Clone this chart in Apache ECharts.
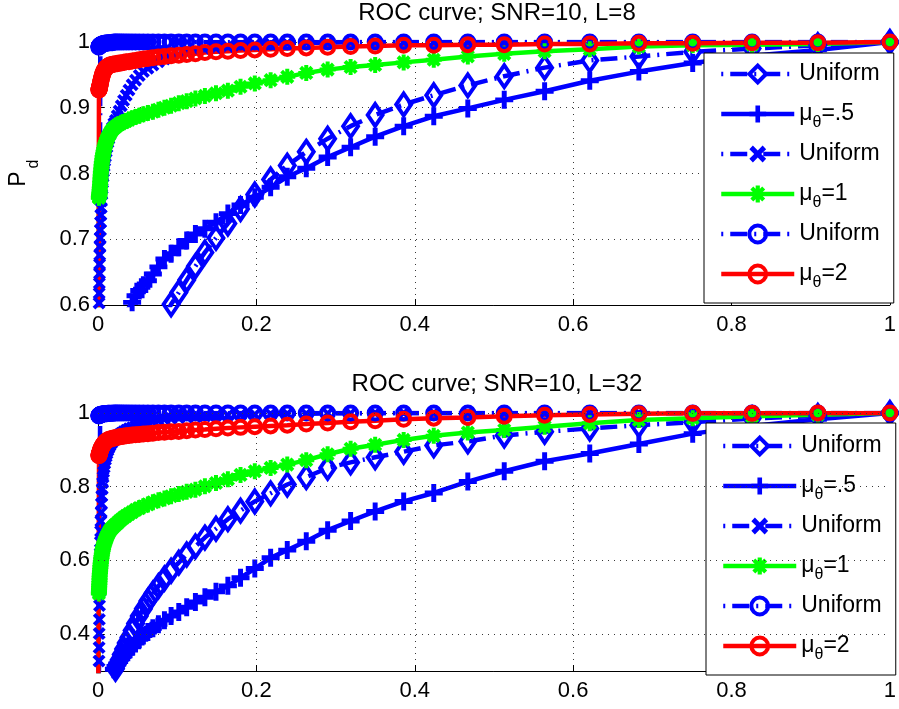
<!DOCTYPE html>
<html>
<head>
<meta charset="utf-8">
<script src="https://cdn.jsdelivr.net/npm/echarts@6/dist/echarts.min.js"></script>
<style>
  html, body { margin: 0; padding: 0; background: #fff; }
  #chart { width: 899px; height: 709px; }
</style>
</head>
<body>
<div id="chart"></div>
<script>
// False-alarm probabilities shared by every curve (threshold sweep)
const pfa = [
  1, 0.909, 0.826, 0.751, 0.683, 0.621, 0.564, 0.513, 0.467, 0.424,
  0.386, 0.350, 0.319, 0.290, 0.263, 0.239, 0.218, 0.198, 0.180, 0.164,
  0.149, 0.135, 0.123, 0.112, 0.102, 0.0923, 0.0839, 0.0763, 0.0693, 0.0630,
  0.0573, 0.0521, 0.0474, 0.0431, 0.0391, 0.0356, 0.0323, 0.0294, 0.0267, 0.0243,
  0.0221, 0.0201, 0.0183, 0.0166, 0.0151, 0.0137, 0.0125, 0.0113, 0.0103, 0.0094,
  0.0085, 0.0078, 0.0070, 0.0064, 0.0058, 0.0053, 0.0048, 0.0044, 0.0040, 0.0036,
  0.0033, 0.0030, 0.0027, 0.0025, 0.0022, 0.0020, 0.0019, 0.0017, 0.0015, 0.0014,
  0.0013, 0.0012, 0.0011, 0
];

const titles = ['ROC curve; SNR=10, L=8', 'ROC curve; SNR=10, L=32'];
const xTicks = [0, 0.2, 0.4, 0.6, 0.8, 1];
const yTicksTop = [0.6, 0.7, 0.8, 0.9, 1];
const yTicksBottom = [0.4, 0.6, 0.8, 1];
const yLabel = ['P', 'd'];

const legendKeys = ['uniD', 'mu05', 'uniX', 'mu1', 'uniO', 'mu2'];
const legendText = ['Uniform', '{m|\u03bc}{s|\u03b8}{m|=.5}', 'Uniform', '{m|\u03bc}{s|\u03b8}{m|=1}', 'Uniform', '{m|\u03bc}{s|\u03b8}{m|=2}'];

// ---- L = 8 : detection probability ----
const l8UniD = [
  1.000, 0.995, 0.990, 0.985, 0.978, 0.972, 0.961, 0.948, 0.934, 0.919,
  0.905, 0.889, 0.872, 0.853, 0.833, 0.812, 0.791, 0.768, 0.746, 0.724,
  0.702, 0.680, 0.659, 0.638, 0.619, 0.601, 0.583, 0.566, 0.549, 0.533
];
const l8Mu05 = [
  1.000, 0.988, 0.979, 0.968, 0.955, 0.941, 0.925, 0.912, 0.899, 0.887,
  0.872, 0.856, 0.840, 0.825, 0.808, 0.795, 0.779, 0.764, 0.752, 0.739,
  0.726, 0.716, 0.708, 0.698, 0.688, 0.678, 0.670, 0.658, 0.647, 0.637,
  0.630, 0.622, 0.614, 0.604, 0.596, 0.588, 0.580, 0.572
];
const l8UniX = [
  1.000, 1.000, 1.000, 1.000, 1.000, 1.000, 1.000, 1.000, 1.000, 1.000,
  1.000, 1.000, 1.000, 0.999, 0.999, 0.998, 0.997, 0.996, 0.995, 0.993,
  0.991, 0.989, 0.987, 0.984, 0.981, 0.978, 0.974, 0.970, 0.965, 0.960,
  0.955, 0.949, 0.942, 0.935, 0.927, 0.919, 0.911, 0.903, 0.895, 0.888,
  0.881, 0.876, 0.870, 0.865, 0.859, 0.853, 0.847, 0.840, 0.833, 0.826,
  0.819, 0.811, 0.803, 0.795, 0.786, 0.777, 0.768, 0.758, 0.748, 0.737,
  0.726, 0.714, 0.702, 0.689, 0.676, 0.662, 0.648, 0.633, 0.618, 0.603,
  0.588, 0.573, 0.558, 0
];
const l8Mu1 = [
  1.000, 0.997, 0.996, 0.995, 0.993, 0.989, 0.986, 0.982, 0.978, 0.973,
  0.969, 0.965, 0.962, 0.958, 0.953, 0.947, 0.942, 0.937, 0.932, 0.926,
  0.922, 0.918, 0.914, 0.910, 0.907, 0.903, 0.900, 0.897, 0.894, 0.892,
  0.890, 0.888, 0.886, 0.884, 0.882, 0.880, 0.878, 0.877, 0.875, 0.873,
  0.871, 0.869, 0.867, 0.864, 0.861, 0.858, 0.855, 0.852, 0.848, 0.845,
  0.841, 0.837, 0.833, 0.829, 0.825, 0.820, 0.816, 0.811, 0.806, 0.801,
  0.796, 0.791, 0.786, 0.781, 0.777, 0.773, 0.770, 0.768, 0.766, 0.765,
  0.764, 0.764, 0.763, 0
];
const l8UniO = [
  1.000, 1.000, 1.000, 1.000, 1.000, 1.000, 1.000, 1.000, 1.000, 1.000,
  1.000, 1.000, 1.000, 1.000, 1.000, 1.000, 1.000, 1.000, 1.000, 1.000,
  1.000, 1.000, 1.000, 1.000, 1.000, 1.000, 1.000, 1.000, 1.000, 1.000,
  1.000, 1.000, 1.000, 1.000, 1.000, 1.000, 1.000, 1.000, 1.000, 1.000,
  1.000, 1.000, 0.999, 0.999, 0.999, 0.999, 0.999, 0.998, 0.998, 0.998,
  0.998, 0.998, 0.997, 0.997, 0.997, 0.997, 0.996, 0.996, 0.996, 0.996,
  0.995, 0.995, 0.995, 0.995, 0.994, 0.994, 0.994, 0.994, 0.993, 0.993,
  0.993, 0.993, 0.992, 0
];
const l8Mu2 = [
  1.000, 0.999, 0.999, 0.998, 0.998, 0.997, 0.997, 0.996, 0.996, 0.995,
  0.995, 0.994, 0.993, 0.992, 0.991, 0.990, 0.989, 0.988, 0.987, 0.986,
  0.985, 0.984, 0.982, 0.981, 0.980, 0.979, 0.978, 0.977, 0.976, 0.975,
  0.974, 0.973, 0.972, 0.971, 0.970, 0.970, 0.969, 0.968, 0.968, 0.967,
  0.967, 0.966, 0.966, 0.965, 0.965, 0.964, 0.963, 0.962, 0.961, 0.960,
  0.958, 0.957, 0.955, 0.953, 0.951, 0.949, 0.947, 0.945, 0.943, 0.941,
  0.939, 0.937, 0.935, 0.934, 0.933, 0.932, 0.931, 0.930, 0.929, 0.928,
  0.928, 0.927, 0.927, 0
];

// ---- L = 32 : detection probability ----
const l32UniD = [
  1.000, 0.992, 0.985, 0.975, 0.967, 0.958, 0.949, 0.939, 0.923, 0.912,
  0.895, 0.880, 0.866, 0.851, 0.826, 0.806, 0.782, 0.760, 0.735, 0.712,
  0.686, 0.662, 0.638, 0.616, 0.594, 0.572, 0.551, 0.530, 0.510, 0.490,
  0.469, 0.449, 0.429, 0.410, 0.391, 0.376, 0.360, 0.345, 0.330, 0.318,
  0.306, 0.295, 0.285, 0.276
];
const l32Mu05 = [
  1.000, 0.983, 0.965, 0.944, 0.916, 0.890, 0.869, 0.842, 0.814, 0.783,
  0.760, 0.733, 0.707, 0.682, 0.652, 0.628, 0.607, 0.578, 0.553, 0.531,
  0.515, 0.500, 0.487, 0.473, 0.460, 0.449, 0.438, 0.427, 0.416, 0.406,
  0.396, 0.386, 0.376, 0.366, 0.357, 0.349, 0.341, 0.333, 0.326, 0.319,
  0.312, 0.305, 0.299, 0.293, 0.287, 0.281
];
const l32UniX = [
  1.000, 1.000, 1.000, 1.000, 1.000, 1.000, 1.000, 1.000, 1.000, 1.000,
  1.000, 1.000, 0.999, 0.999, 0.998, 0.998, 0.997, 0.996, 0.995, 0.994,
  0.993, 0.992, 0.990, 0.989, 0.987, 0.985, 0.983, 0.980, 0.978, 0.973,
  0.970, 0.967, 0.964, 0.960, 0.957, 0.953, 0.949, 0.945, 0.941, 0.937,
  0.932, 0.927, 0.922, 0.917, 0.911, 0.905, 0.898, 0.890, 0.882, 0.873,
  0.863, 0.852, 0.840, 0.826, 0.811, 0.794, 0.775, 0.754, 0.731, 0.706,
  0.679, 0.650, 0.619, 0.586, 0.551, 0.515, 0.478, 0.440, 0.402, 0.364,
  0.327, 0.291, 0.256, 0
];
const l32Mu1 = [
  1.000, 0.995, 0.991, 0.986, 0.981, 0.972, 0.963, 0.954, 0.947, 0.938,
  0.927, 0.914, 0.903, 0.888, 0.872, 0.860, 0.851, 0.842, 0.832, 0.820,
  0.810, 0.801, 0.792, 0.786, 0.780, 0.774, 0.768, 0.763, 0.758, 0.752,
  0.747, 0.742, 0.737, 0.731, 0.726, 0.721, 0.716, 0.711, 0.706, 0.701,
  0.697, 0.693, 0.689, 0.685, 0.681, 0.676, 0.671, 0.666, 0.661, 0.655,
  0.650, 0.645, 0.640, 0.634, 0.628, 0.622, 0.616, 0.609, 0.603, 0.596,
  0.589, 0.582, 0.575, 0.568, 0.561, 0.553, 0.546, 0.539, 0.532, 0.526,
  0.520, 0.515, 0.510, 0
];
const l32UniO = [
  1.000, 1.000, 1.000, 1.000, 1.000, 1.000, 1.000, 1.000, 1.000, 1.000,
  1.000, 1.000, 1.000, 1.000, 1.000, 1.000, 1.000, 1.000, 1.000, 1.000,
  1.000, 1.000, 1.000, 1.000, 1.000, 1.000, 1.000, 1.000, 1.000, 1.000,
  1.000, 1.000, 1.000, 1.000, 1.000, 1.000, 1.000, 1.000, 1.000, 1.000,
  1.000, 1.000, 0.999, 0.999, 0.999, 0.999, 0.999, 0.998, 0.998, 0.998,
  0.998, 0.998, 0.997, 0.997, 0.997, 0.997, 0.996, 0.996, 0.996, 0.996,
  0.995, 0.995, 0.995, 0.995, 0.994, 0.994, 0.994, 0.994, 0.993, 0.993,
  0.993, 0.993, 0.992, 0
];
const l32Mu2 = [
  1.000, 1.000, 0.999, 0.999, 0.998, 0.996, 0.994, 0.991, 0.988, 0.986,
  0.983, 0.979, 0.976, 0.973, 0.970, 0.967, 0.965, 0.963, 0.961, 0.959,
  0.957, 0.955, 0.954, 0.952, 0.950, 0.949, 0.948, 0.947, 0.945, 0.944,
  0.943, 0.942, 0.941, 0.940, 0.939, 0.938, 0.937, 0.936, 0.935, 0.934,
  0.933, 0.932, 0.931, 0.930, 0.929, 0.928, 0.927, 0.925, 0.924, 0.922,
  0.920, 0.918, 0.916, 0.914, 0.912, 0.910, 0.908, 0.906, 0.904, 0.902,
  0.900, 0.898, 0.896, 0.894, 0.892, 0.891, 0.890, 0.889, 0.888, 0.887,
  0.886, 0.885, 0.884, 0
];

// ---------- styling ----------
const FONT = '"Liberation Sans", Arial, Helvetica, sans-serif';
const BLUE = '#0000ff', GREEN = '#00ff00', RED = '#ff0000';
const DASHDOT = [17, 7, 2, 7];
const LINE_W = 4.5, RING_W = 4;
const GRID_DOT = { color: '#3a3a3a', width: 1, type: [1, 5] };
const PLUS = 'path://M-2.2,-8L2.2,-8L2.2,-2.2L8,-2.2L8,2.2L2.2,2.2L2.2,8L-2.2,8L-2.2,2.2L-8,2.2L-8,-2.2L-2.2,-2.2Z';
const CROSS = 'path://M3.11,-5.37L5.37,-3.11L2.26,0L5.37,3.11L3.11,5.37L0,2.26L-3.11,5.37L-5.37,3.11L-2.26,0L-5.37,-3.11L-3.11,-5.37L0,-2.26Z';
const STAR = 'path://M-1.5,-6L1.5,-6L1.5,-1.5L6,-1.5L6,1.5L1.5,1.5L1.5,6L-1.5,6L-1.5,1.5L-6,1.5L-6,-1.5L-1.5,-1.5Z' +
             'M3.18,-5.3L5.3,-3.18L2.12,0L5.3,3.18L3.18,5.3L0,2.12L-3.18,5.3L-5.3,3.18L-2.12,0L-5.3,-3.18L-3.18,-5.3L0,-2.12Z';

const styles = {
  uniD: { color: BLUE, dash: true, symbol: 'diamond', size: [15, 22], hollow: true },
  mu05: { color: BLUE, dash: false, symbol: PLUS, size: 18, hollow: false },
  uniX: { color: BLUE, dash: true, symbol: CROSS, size: 13, hollow: false },
  mu1: { color: GREEN, dash: false, symbol: STAR, size: 16, hollow: false },
  uniO: { color: BLUE, dash: true, symbol: 'circle', size: 13, hollow: true },
  mu2: { color: RED, dash: false, symbol: 'circle', size: 13, hollow: true }
};

function markStyle(s) {
  return s.hollow
    ? { color: 'rgba(255,255,255,0)', borderColor: s.color, borderWidth: RING_W }
    : { color: s.color, borderWidth: 0 };
}
function lineStyle(s) {
  return { color: s.color, width: LINE_W, type: s.dash ? DASHDOT : 'solid', dashOffset: 24 };
}

function curve(key, ys, idx) {
  const s = styles[key];
  return {
    type: 'line', name: key, xAxisIndex: idx, yAxisIndex: idx,
    data: ys.map((y, i) => [pfa[i], y]),
    symbol: s.symbol, symbolSize: s.size, showSymbol: true, showAllSymbol: true,
    lineStyle: lineStyle(s),
    itemStyle: markStyle(s),
    clip: true, silent: true, emphasis: { disabled: true }
  };
}

const grids = [
  { left: 98, top: 42, width: 798, height: 263 },
  { left: 98, top: 413, width: 798, height: 258 }
];

function xAxis(idx) {
  return {
    type: 'value', gridIndex: idx, min: 0, max: 1, interval: 0.2,
    axisLine: { show: true, onZero: false, lineStyle: { color: '#000', width: 1 } },
    axisTick: { show: true, inside: true, length: 6, lineStyle: { color: '#000' } },
    axisLabel: { color: '#000', fontSize: 22, fontFamily: FONT, margin: 9,
                 formatter: v => String(xTicks.find(t => Math.abs(t - v) < 1e-9) ?? v) },
    splitLine: { show: true, lineStyle: GRID_DOT }
  };
}

const legendLabel = {};
legendKeys.forEach((k, i) => { legendLabel[k] = legendText[i]; });

function legend(left, top, padTop) {
  return {
    show: true, orient: 'vertical', left: left, top: top,
    data: legendKeys.map(k => ({ name: k, itemStyle: markStyle(styles[k]), lineStyle: lineStyle(styles[k]) })),
    itemWidth: 73, itemHeight: 21, itemGap: 6,
    padding: [padTop, 14, 12, 15],
    backgroundColor: '#fff', borderColor: '#000', borderWidth: 1, borderRadius: 0,
    selectedMode: false,
    formatter: name => legendLabel[name],
    textStyle: {
      color: '#000', fontSize: 23, fontFamily: FONT, lineHeight: 34,
      rich: {
        m: { fontSize: 23, fontFamily: FONT, color: '#000', lineHeight: 34 },
        s: { fontSize: 16, fontFamily: FONT, color: '#000', lineHeight: 16, verticalAlign: 'bottom' }
      }
    }
  };
}

const chart = echarts.init(document.getElementById('chart'), null, { renderer: 'canvas' });
chart.setOption({
  animation: false,
  backgroundColor: '#fff',
  title: [
    { text: titles[0], left: 497, top: 1, textAlign: 'center', padding: 0,
      textStyle: { color: '#000', fontSize: 24, fontWeight: 'normal', fontFamily: FONT } },
    { text: titles[1], left: 497, top: 372, textAlign: 'center', padding: 0,
      textStyle: { color: '#000', fontSize: 24, fontWeight: 'normal', fontFamily: FONT } }
  ],
  grid: grids,
  xAxis: [xAxis(0), xAxis(1)],
  yAxis: [
    {
      type: 'value', gridIndex: 0, min: yTicksTop[0], max: 1, interval: 0.1,
      axisLine: { show: true, lineStyle: { color: '#000', width: 1 } },
      axisTick: { show: true, inside: true, length: 6, lineStyle: { color: '#000' } },
      axisLabel: { color: '#000', fontSize: 22, fontFamily: FONT, margin: 8,
                   formatter: v => String(yTicksTop.find(t => Math.abs(t - v) < 1e-9) ?? v) },
      splitLine: { show: true, lineStyle: GRID_DOT }
    },
    {
      type: 'value', gridIndex: 1, min: 0.3, max: 1,
      axisLine: { show: true, lineStyle: { color: '#000', width: 1 } },
      axisTick: { show: true, inside: true, length: 6, lineStyle: { color: '#000' }, customValues: yTicksBottom },
      axisLabel: { color: '#000', fontSize: 22, fontFamily: FONT, margin: 8, customValues: yTicksBottom },
      splitLine: { show: false }
    }
  ],
  legend: [legend(704, 53, 4), legend(706, 423, 6)],
  graphic: [
    { type: 'text', x: 19, y: 179, rotation: Math.PI / 2,
      style: { text: yLabel[0], fontSize: 23, fontFamily: FONT, fill: '#000', align: 'center', verticalAlign: 'middle' } },
    { type: 'text', x: 34, y: 164, rotation: Math.PI / 2,
      style: { text: yLabel[1], fontSize: 16, fontFamily: FONT, fill: '#000', align: 'center', verticalAlign: 'middle' } }
  ],
  series: [
    // dotted horizontal grid for the lower panel
    { type: 'line', xAxisIndex: 1, yAxisIndex: 1, data: [], silent: true,
      markLine: { silent: true, symbol: 'none', label: { show: false }, animation: false,
                  lineStyle: GRID_DOT, data: yTicksBottom.map(v => ({ yAxis: v })) } },
    curve('uniD', l8UniD, 0),
    curve('mu05', l8Mu05, 0),
    curve('uniX', l8UniX, 0),
    curve('mu1', l8Mu1, 0),
    curve('uniO', l8UniO, 0),
    curve('mu2', l8Mu2, 0),
    curve('uniD', l32UniD, 1),
    curve('mu05', l32Mu05, 1),
    curve('uniX', l32UniX, 1),
    curve('mu1', l32Mu1, 1),
    curve('uniO', l32UniO, 1),
    curve('mu2', l32Mu2, 1)
  ]
});
</script>
</body>
</html>
